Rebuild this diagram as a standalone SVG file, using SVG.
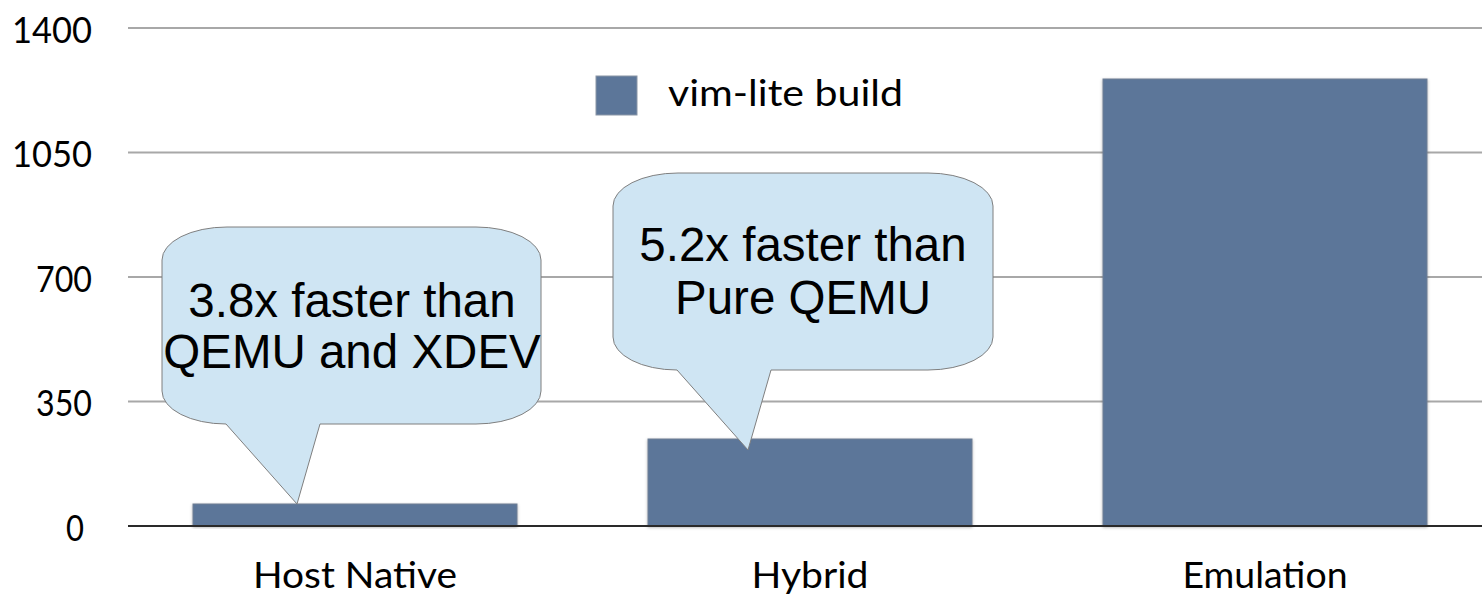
<svg xmlns="http://www.w3.org/2000/svg" width="1482" height="594" viewBox="0 0 1482 594">
<style>
.grid{stroke:#a8a8a8;stroke-width:2;fill:none}
.axis{stroke:#2a2a2a;stroke-width:2;fill:none}
.bar{fill:#5c7699;stroke:#6f7f93;stroke-width:1}
.lbl{font-family:Lato,"Liberation Sans",sans-serif;font-size:36px;fill:#000}
.bub{fill:#cfe5f3;stroke:#7f7f7f;stroke-width:1}
.btxt{font-family:"Liberation Sans",Arial,sans-serif;font-size:47.5px;fill:#000;text-anchor:middle}
</style>
<defs>
<filter id="sh" x="-5%" y="-5%" width="110%" height="115%">
<feDropShadow dx="0" dy="1" stdDeviation="1.5" flood-color="#000" flood-opacity="0.3"/>
</filter>
</defs>
<g id="gridlines">
<line class="grid" x1="128" y1="28" x2="1482" y2="28"/>
<line class="grid" x1="128" y1="152.5" x2="1482" y2="152.5"/>
<line class="grid" x1="128" y1="277" x2="1482" y2="277"/>
<line class="grid" x1="128" y1="401.5" x2="1482" y2="401.5"/>
</g>
<g id="y-labels" class="lbl" text-anchor="end">
<text x="92" y="43" textLength="80" lengthAdjust="spacingAndGlyphs">1400</text>
<text x="92" y="167" textLength="80" lengthAdjust="spacingAndGlyphs">1050</text>
<text x="92" y="292" textLength="56" lengthAdjust="spacingAndGlyphs">700</text>
<text x="92" y="416" textLength="56" lengthAdjust="spacingAndGlyphs">350</text>
<text x="84" y="541" textLength="18" lengthAdjust="spacingAndGlyphs">0</text>
</g>
<g id="bar-host-native">
<rect class="bar" x="193" y="504" width="324" height="22" filter="url(#sh)"/>
</g>
<g id="bar-hybrid">
<rect class="bar" x="648" y="439" width="324" height="87" filter="url(#sh)"/>
</g>
<g id="bar-emulation">
<rect class="bar" x="1103" y="79" width="324" height="447" filter="url(#sh)"/>
</g>
<line id="zero-axis" class="axis" x1="128" y1="526" x2="1482" y2="526"/>
<g id="x-labels" class="lbl" text-anchor="middle">
<text x="355" y="588" textLength="204" lengthAdjust="spacingAndGlyphs">Host Native</text>
<text x="810" y="588" textLength="117" lengthAdjust="spacingAndGlyphs">Hybrid</text>
<text x="1265" y="588" textLength="165" lengthAdjust="spacingAndGlyphs">Emulation</text>
</g>
<g id="legend">
<rect x="596" y="76" width="41" height="39" fill="#5c7699" stroke="#8a96a6" stroke-width="1"/>
<text class="lbl" x="668" y="106" textLength="235" lengthAdjust="spacingAndGlyphs">vim-lite build</text>
</g>
<g id="callout-host-native">
<path class="bub" d="M227,227 H476 A65 33 0 0 1 541,260 V391 A65 33 0 0 1 476,424 H320 L297,504 L226,424 A64 33 0 0 1 162,391 V260 A65 33 0 0 1 227,227 Z"/>
<text class="btxt" x="352" y="317">3.8x faster than</text>
<text class="btxt" x="352" y="368">QEMU and XDEV</text>
</g>
<g id="callout-hybrid">
<path class="bub" d="M678,173 H928 A65 33 0 0 1 993,206 V337 A65 33 0 0 1 928,370 H771 L748,450 L677,370 A64 33 0 0 1 613,337 V206 A65 33 0 0 1 678,173 Z"/>
<text class="btxt" x="803" y="261">5.2x faster than</text>
<text class="btxt" x="803" y="314">Pure QEMU</text>
</g>
</svg>
